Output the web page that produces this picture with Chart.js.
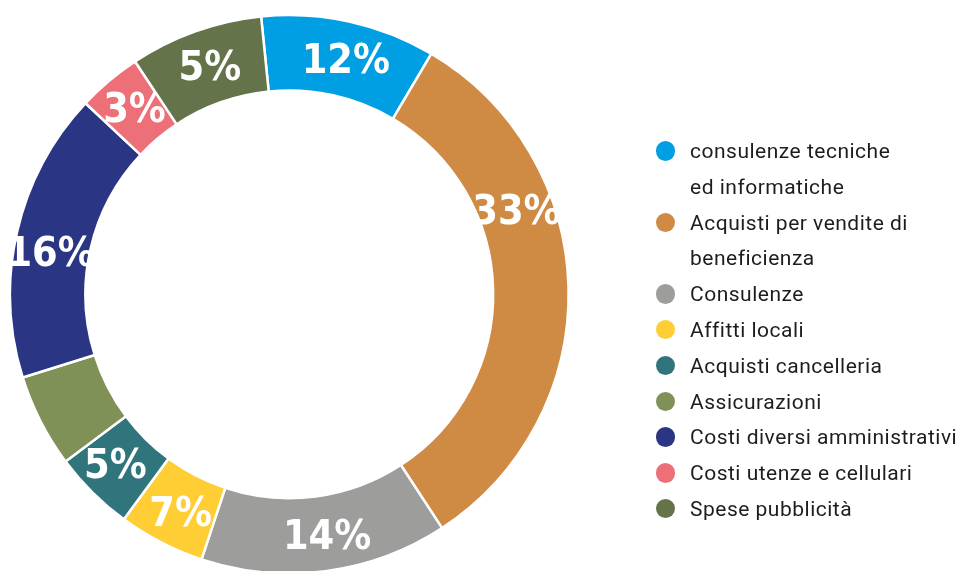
<!DOCTYPE html>
<html>
<head>
<meta charset="utf-8">
<script src="https://cdn.jsdelivr.net/npm/chart.js@4.4.1/dist/chart.umd.min.js"></script>
<style>
  body { margin: 0; background: #fff; overflow: hidden; }
  #wrap { position: absolute; left: 0; top: 0; width: 963px; height: 600px; }
  #legend { position: absolute; left: 655.5px; top: 134px; font-family: Roboto, sans-serif; font-size: 21px; letter-spacing: 0.5px; color: #1d1d1b; }
  .item { position: relative; padding-left: 34.5px; line-height: 35.8px; white-space: pre-line; }
  .dot { position: absolute; left: 0; top: 7px; width: 19.5px; height: 19.5px; border-radius: 50%; }
</style>
</head>
<body>
<div id="wrap"><canvas id="torta"></canvas></div>
<div id="legend"></div>
<script>
const categories = [
    "consulenze tecniche\ned informatiche",
    "Acquisti per vendite di\nbeneficienza",
    "Consulenze",
    "Affitti locali",
    "Acquisti cancelleria",
    "Assicurazioni",
    "Costi diversi amministrativi",
    "Costi utenze e cellulari",
    "Spese pubblicità"
];
// share of each slice
const values = [10.1, 32.3, 14.3, 5.0, 4.7, 5.4, 16.8, 3.7, 7.7];
// the percentages printed on the slices
const percentLabels = ["12%", "33%", "14%", "7%", "5%", "", "16%", "3%", "5%"];
const colors = ["#009fe3", "#cf8a43", "#9d9d9c", "#ffcd34", "#31757c", "#7f9157", "#2a3584", "#ed6f78", "#647349"];

// where along each slice the label sits (0 = start, 1 = end)
const labelAt = [0.53, 0.334, 0.47, 0.46, 0.56, 0.5, 0.455, 0.54, 0.52];

const sliceLabels = {
    id: "sliceLabels",
    afterDatasetsDraw(chart) {
        const ctx = chart.ctx;
        const size = 41;
        chart.getDatasetMeta(0).data.forEach((arc, i) => {
            if (!percentLabels[i]) return;
            const { x, y, startAngle, endAngle, innerRadius, outerRadius } =
                arc.getProps(["x", "y", "startAngle", "endAngle", "innerRadius", "outerRadius"], true);
            const a = startAngle + (endAngle - startAngle) * labelAt[i];
            const r = (innerRadius + outerRadius) / 2 + 1;
            ctx.save();
            ctx.beginPath();
            ctx.arc(x, y, outerRadius, startAngle, endAngle);
            ctx.arc(x, y, innerRadius, endAngle, startAngle, true);
            ctx.closePath();
            ctx.clip();
            ctx.fillStyle = "#fff";
            ctx.font = `bold ${size}px "DejaVu Sans Condensed", "DejaVu Sans"`;
            ctx.textAlign = "center";
            ctx.textBaseline = "alphabetic";
            // centre the digits (cap height) on the point
            ctx.fillText(percentLabels[i], x + Math.cos(a) * r, y + Math.sin(a) * r + size * 0.365);
            ctx.restore();
        });
    }
};

const torta = new Chart(document.getElementById("torta"), {
    type: "doughnut",
    data: {
        labels: categories,
        datasets: [{
            data: values,
            backgroundColor: colors,
            borderColor: "#fff",
            borderWidth: 2.5,
            hoverBorderWidth: 2.5,
            hoverOffset: 0,
            radius: 279.3
        }]
    },
    options: {
        responsive: true,
        maintainAspectRatio: false,
        animation: false,
        events: [],
        rotation: -5.8,
        cutout: "73%",
        layout: {
            padding: { left: 10, top: 15, right: 394.4, bottom: 26.4 }
        },
        plugins: {
            legend: { display: false },
            tooltip: { enabled: false }
        }
    },
    plugins: [sliceLabels]
});

const legend = document.getElementById("legend");
categories.forEach((name, i) => {
    const item = document.createElement("div");
    item.className = "item";
    const dot = document.createElement("span");
    dot.className = "dot";
    dot.style.background = colors[i];
    item.appendChild(dot);
    item.appendChild(document.createTextNode(name));
    legend.appendChild(item);
});
</script>
</body>
</html>
